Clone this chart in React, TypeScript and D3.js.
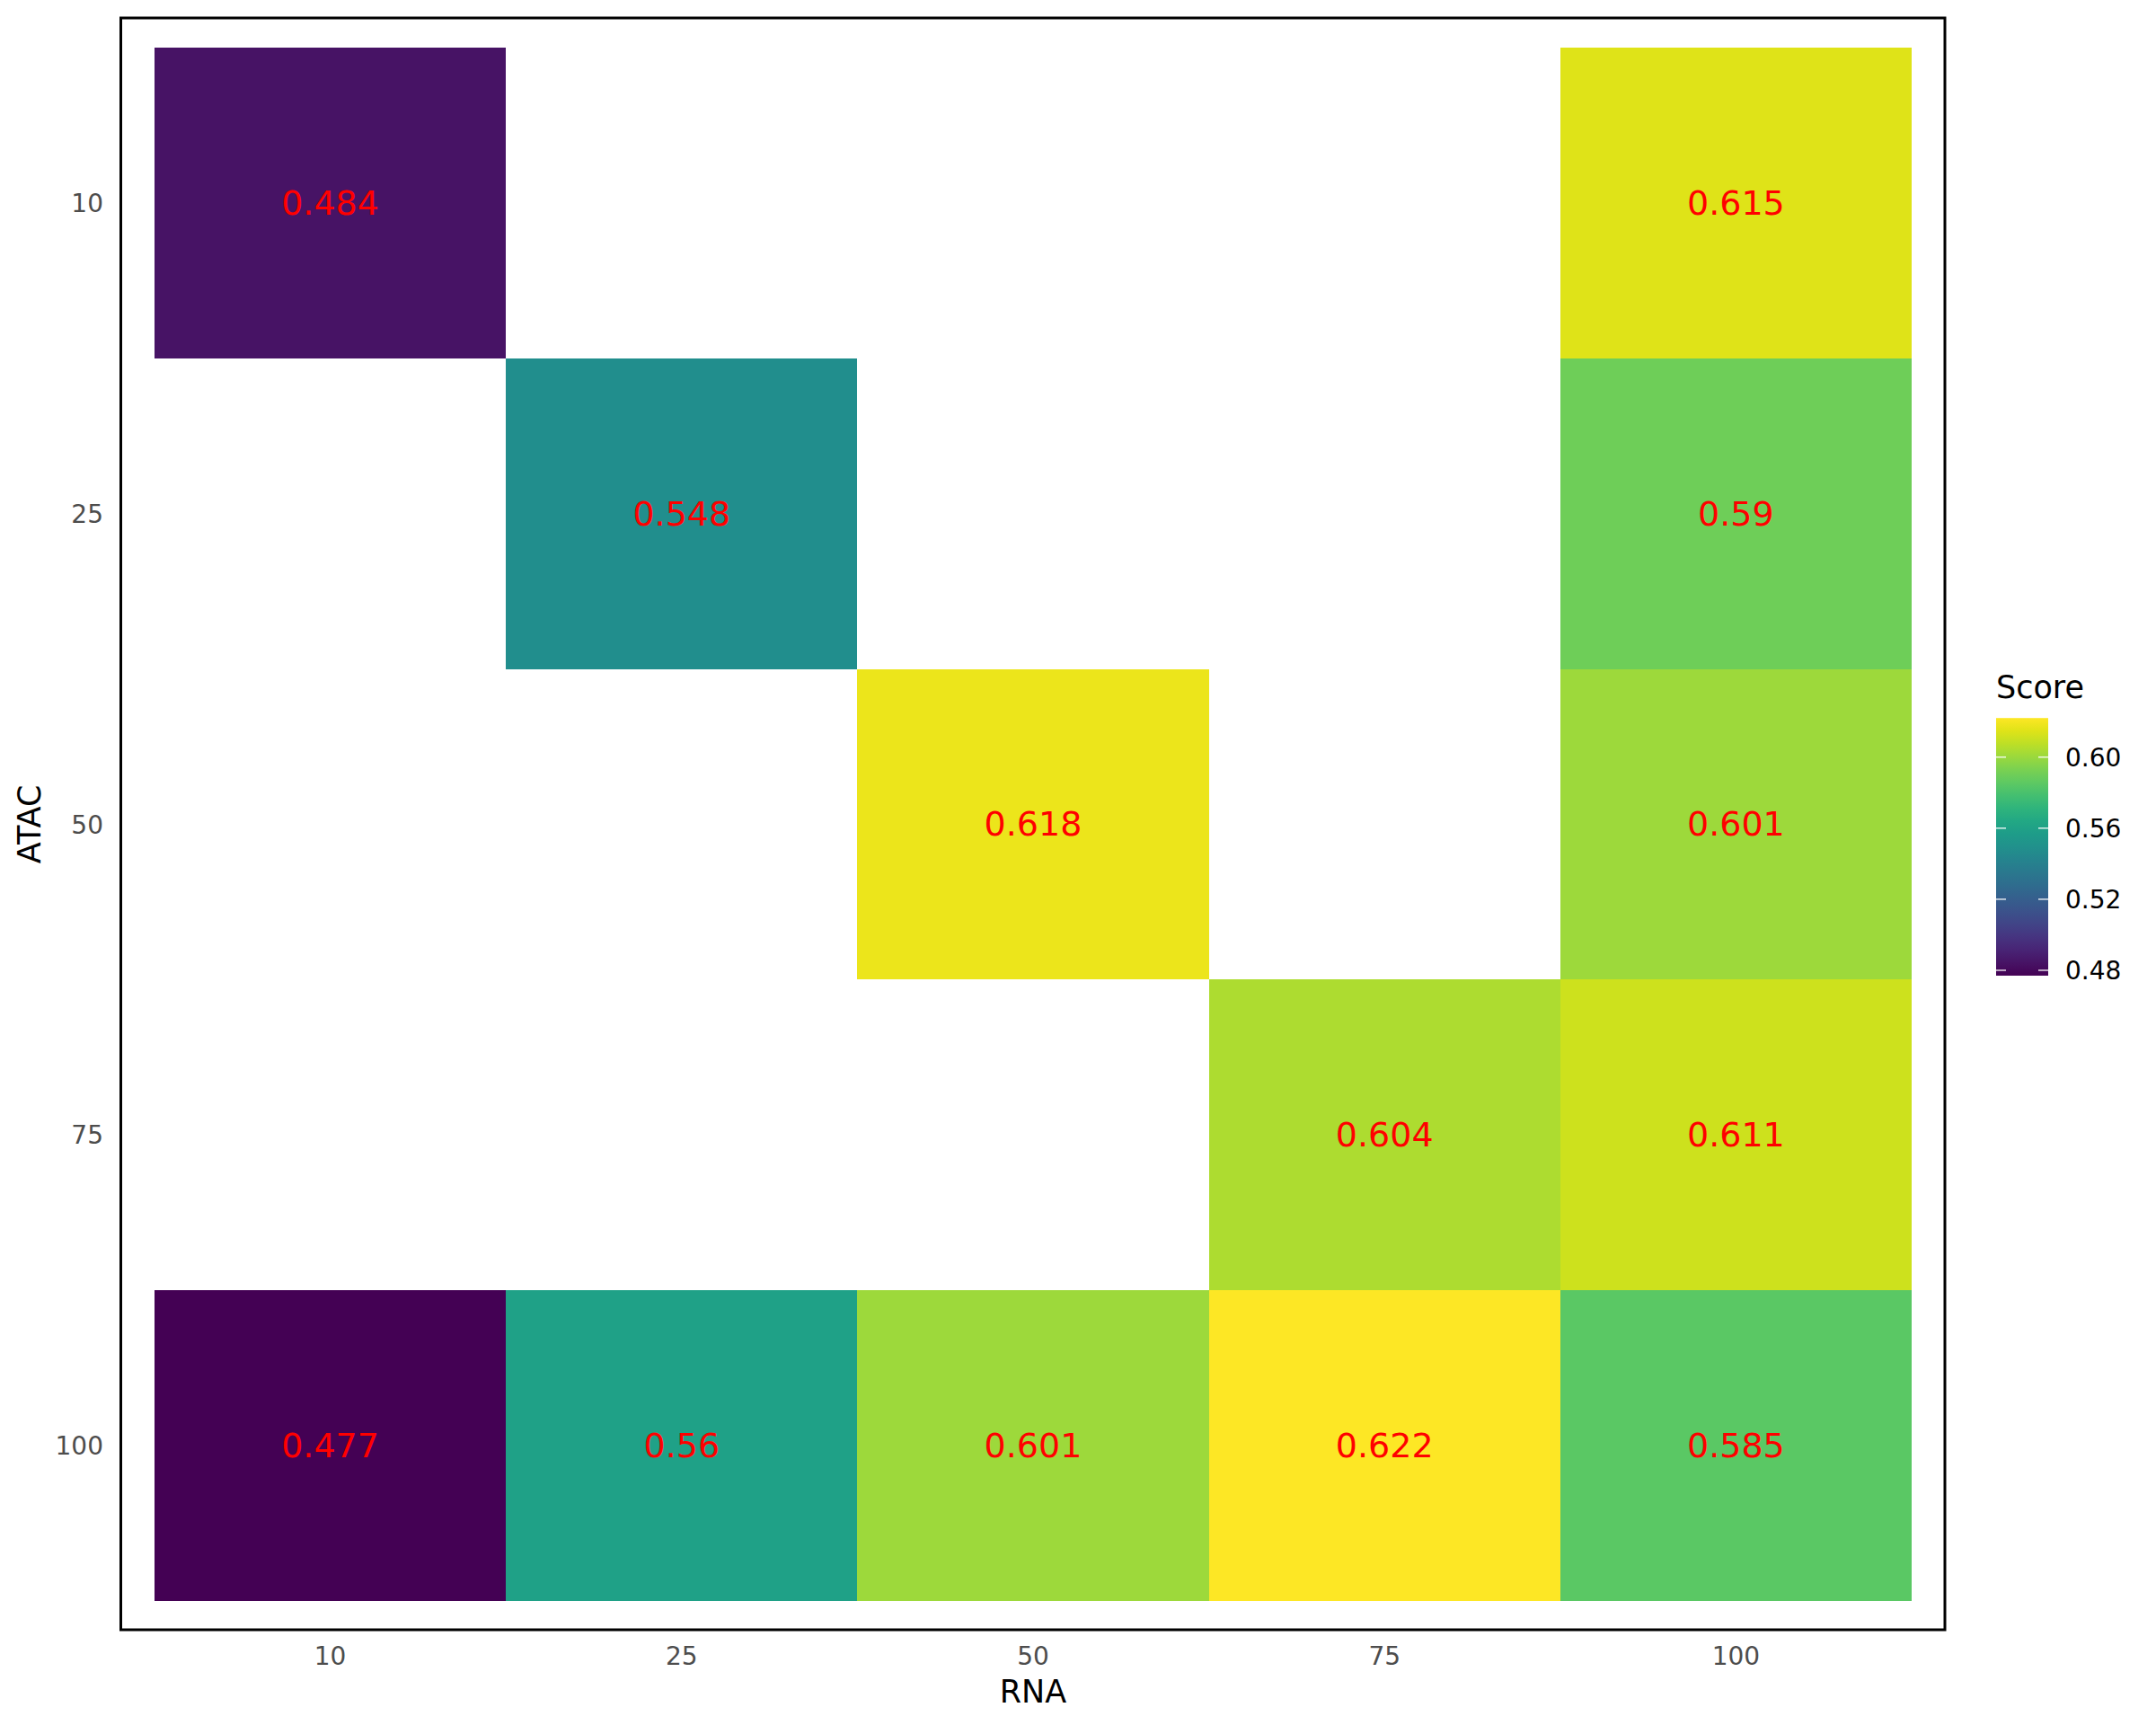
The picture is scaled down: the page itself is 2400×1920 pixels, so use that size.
import React from "react";
import * as d3 from "d3";

const rnaLevels = ["10", "25", "50", "75", "100"];
const atacLevels = ["10", "25", "50", "75", "100"];
const cellRNA = ["10", "100", "25", "100", "50", "100", "75", "100", "10", "25", "50", "75", "100"];
const cellATAC = ["10", "10", "25", "25", "50", "50", "75", "75", "100", "100", "100", "100", "100"];
const cellScore = [0.484, 0.615, 0.548, 0.59, 0.618, 0.601, 0.604, 0.611, 0.477, 0.56, 0.601, 0.622, 0.585];
const legendTicks = [0.48, 0.52, 0.56, 0.6];

const FONT = "DejaVu Sans, sans-serif";

export default function App() {
  const W = 2400, H = 1920;
  const x = d3.scaleBand<string>().domain(rnaLevels).range([172, 2128]).padding(0);
  const y = d3.scaleBand<string>().domain(atacLevels).range([53, 1782]).padding(0);
  const ext = d3.extent(cellScore) as [number, number];
  const color = d3.scaleSequential(d3.interpolateViridis).domain(ext);
  const cb = d3.scaleLinear().domain([0.48, 0.6]).range([1080, 842.7]);
  const cbTop = cb(ext[1]);
  const cbBot = cb(ext[0]);
  const stops = d3.range(0, 1.0001, 0.05);

  return (
    <svg width={W} height={H} style={{ position: "absolute", left: 0, top: 0, background: "#fff" }}>
      <defs>
        <linearGradient id="cbg" x1="0" y1="1" x2="0" y2="0">
          {stops.map((t, i) => (
            <stop key={i} offset={t} stopColor={d3.interpolateViridis(t)} />
          ))}
        </linearGradient>
      </defs>
      <rect x={0} y={0} width={W} height={H} fill="#fff" />
      {cellScore.map((v, i) => (
        <rect
          key={i}
          x={x(cellRNA[i])}
          y={y(cellATAC[i])}
          width={x.bandwidth()}
          height={y.bandwidth()}
          fill={color(v)}
          shapeRendering="crispEdges"
        />
      ))}
      {cellScore.map((v, i) => (
        <text
          key={"t" + i}
          x={(x(cellRNA[i]) as number) + x.bandwidth() / 2}
          y={(y(cellATAC[i]) as number) + y.bandwidth() / 2}
          dy="0.34em"
          textAnchor="middle"
          fontFamily={FONT}
          fontSize={38}
          fill="#ff0000"
        >
          {String(v)}
        </text>
      ))}
      <rect x={134.5} y={20} width={2165 - 134.5} height={1814 - 20} fill="none" stroke="#000" strokeWidth={3} />
      {rnaLevels.map((r) => (
        <text
          key={"x" + r}
          x={(x(r) as number) + x.bandwidth() / 2}
          y={1853}
          textAnchor="middle"
          fontFamily={FONT}
          fontSize={28}
          fill="#4d4d4d"
        >
          {r}
        </text>
      ))}
      {atacLevels.map((a) => (
        <text
          key={"y" + a}
          x={115}
          y={(y(a) as number) + y.bandwidth() / 2}
          dy="0.36em"
          textAnchor="end"
          fontFamily={FONT}
          fontSize={28}
          fill="#4d4d4d"
        >
          {a}
        </text>
      ))}
      <text x={1150} y={1895} textAnchor="middle" fontFamily={FONT} fontSize={35} fill="#000">
        RNA
      </text>
      <text
        transform="translate(45,917.5) rotate(-90)"
        textAnchor="middle"
        fontFamily={FONT}
        fontSize={35}
        fill="#000"
      >
        ATAC
      </text>
      <text x={2222} y={777} fontFamily={FONT} fontSize={35} fill="#000">
        Score
      </text>
      <rect x={2222} y={cbTop} width={58} height={cbBot - cbTop} fill="url(#cbg)" />
      {legendTicks.map((t) => (
        <g key={"lt" + t}>
          <line x1={2222} x2={2233} y1={cb(t)} y2={cb(t)} stroke="#fff" strokeOpacity={0.85} strokeWidth={1.5} />
          <line x1={2269} x2={2280} y1={cb(t)} y2={cb(t)} stroke="#fff" strokeOpacity={0.85} strokeWidth={1.5} />
          <text x={2299} y={cb(t)} dy="0.36em" fontFamily={FONT} fontSize={28} fill="#000">
            {t.toFixed(2)}
          </text>
        </g>
      ))}
    </svg>
  );
}
